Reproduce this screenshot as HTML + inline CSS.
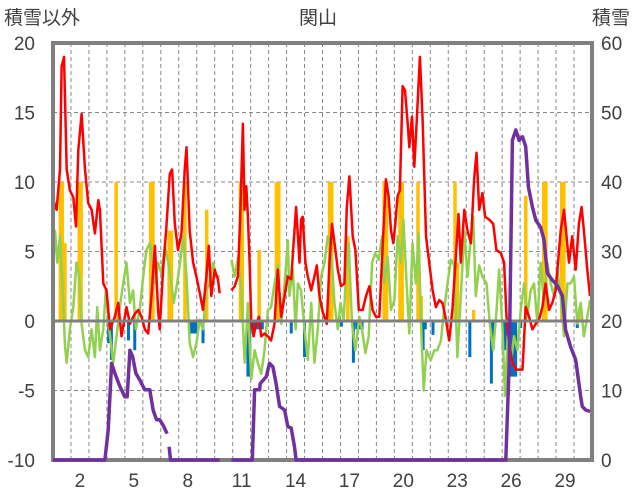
<!DOCTYPE html>
<html><head><meta charset="utf-8"><style>
html,body{margin:0;padding:0;background:#fff;}
svg{display:block;font-family:"Liberation Sans","Noto Sans CJK JP",sans-serif;}
</style></head><body>
<svg id="chart" width="636" height="501" viewBox="0 0 636 501"></svg>
<script>
// ---- data ----
const dayTicks=[2,5,8,11,14,17,20,23,26,29];
const leftTicks=[20,15,10,5,0,-5,-10];
const rightTicks=[60,50,40,30,20,10,0];
const redDays=[0.02,0.2,0.39,0.48,0.61,0.76,0.94,1.13,1.28,1.41,1.59,1.78,1.96,2.15,2.33,2.52,2.61,2.8,2.98,3.17,3.44,3.63,3.81,4.09,4.28,4.55,4.74,4.93,5.11,5.3,5.48,5.67,5.85,5.94,6.13,6.31,6.5,6.63,6.78,6.96,7.15,7.33,7.43,7.61,7.8,7.98,8.17,8.35,8.54,8.67,8.81,9.0,9.18,9.28,9.6,9.93,10.11,10.29,10.42,10.57,10.66,10.76,10.85,10.94,11.03,11.16,11.31,11.46,11.59,11.77,11.96,12.14,12.33,12.51,12.7,12.89,13.07,13.26,13.39,13.53,13.72,13.81,13.9,14.05,14.18,14.37,14.55,14.68,14.83,15.02,15.24,15.39,15.53,15.72,15.85,16.03,16.22,16.35,16.5,16.68,16.83,17.02,17.24,17.42,17.61,17.79,17.98,18.16,18.35,18.53,18.68,18.81,18.94,19.05,19.18,19.31,19.46,19.59,19.74,19.83,19.98,20.11,20.24,20.42,20.57,20.76,20.94,21.13,21.31,21.5,21.68,21.87,22.05,22.24,22.42,22.57,22.7,22.89,23.07,23.26,23.44,23.57,23.72,23.9,24.05,24.27,24.5,24.68,24.92,25.11,25.24,25.39,25.57,25.76,25.94,26.13,26.31,26.5,26.68,26.87,27.05,27.24,27.42,27.61,27.79,27.98,28.26,28.44,28.53,28.72,28.9,29.09,29.27,29.42,29.55,29.74,29.89];
const redVals=[8.7,8.0,10.9,18.3,19.0,10.9,9.4,8.9,6.8,12.3,14.9,10.9,8.5,8.0,6.3,8.7,8.0,2.7,2.2,-0.6,0.3,1.3,-1.1,1.0,-0.2,0.5,0.8,0.3,-0.6,-0.9,1.8,5.4,0.8,-0.6,3.7,6.8,10.6,10.9,7.0,5.1,6.3,10.9,12.5,6.5,4.2,3.2,2.0,0.8,3.2,5.4,1.8,3.7,3.0,2.0,null,2.2,2.5,3.2,7.5,14.2,8.0,9.7,7.5,4.2,0.1,-1.1,-0.2,0.3,-1.1,-0.9,-1.1,-1.4,-0.2,3.7,0.3,1.8,3.2,3.0,5.6,8.2,4.2,7.3,7.5,4.2,3.2,2.2,3.2,4.0,1.8,0.6,-0.2,4.2,7.0,5.1,3.7,2.5,2.7,8.2,10.4,6.1,5.1,0.8,0.8,1.8,2.5,0.8,0.3,0.3,5.4,10.2,9.0,6.5,5.6,7.0,9.0,9.4,16.9,16.6,14.2,12.5,14.7,11.1,14.2,19.0,14.5,6.1,4.2,2.2,1.0,1.5,1.3,0.1,-1.4,1.0,4.6,7.7,4.2,8.0,6.5,5.6,10.2,12.1,8.0,9.2,7.5,7.3,7.0,5.1,4.9,4.2,0.3,-1.6,-3.0,-3.5,-3.5,-3.5,1.0,0.3,-0.6,-0.2,0.1,1.0,2.7,0.8,1.3,2.2,6.5,8.0,6.8,4.2,6.1,3.7,7.0,8.2,6.5,3.7,1.8];
const greenDays=[0.02,0.11,0.24,0.39,0.54,0.67,0.76,0.94,1.13,1.31,1.46,1.59,1.78,1.96,2.15,2.33,2.46,2.61,2.8,2.94,3.13,3.35,3.54,3.72,3.91,4.09,4.28,4.46,4.61,4.83,5.02,5.2,5.39,5.54,5.67,5.85,6.04,6.22,6.41,6.59,6.72,6.91,7.09,7.24,7.43,7.61,7.8,7.98,8.17,8.35,8.54,8.72,8.91,9.09,9.28,9.6,9.93,10.11,10.3,10.48,10.67,10.85,11.03,11.22,11.4,11.59,11.77,11.96,12.14,12.33,12.51,12.7,12.89,13.07,13.16,13.35,13.5,13.63,13.81,14.0,14.18,14.37,14.55,14.74,14.92,15.11,15.29,15.48,15.66,15.85,16.0,16.18,16.31,16.46,16.64,16.83,17.05,17.2,17.39,17.57,17.76,17.94,18.13,18.31,18.44,18.63,18.81,19.0,19.18,19.37,19.5,19.68,19.83,20.01,20.2,20.35,20.48,20.63,20.79,20.94,21.03,21.22,21.4,21.59,21.77,21.96,22.14,22.33,22.51,22.7,22.89,23.07,23.26,23.39,23.53,23.72,23.9,24.13,24.31,24.5,24.68,24.83,25.02,25.16,25.31,25.48,25.66,25.85,26.03,26.22,26.4,26.59,26.77,26.96,27.14,27.33,27.51,27.7,27.89,28.07,28.26,28.44,28.63,28.81,29.0,29.18,29.37,29.55,29.74,29.89];
const greenVals=[4.6,6.5,4.2,6.1,2.2,-1.8,-3.0,-0.6,1.0,4.2,3.2,-0.2,-2.1,-2.6,-0.6,-2.6,1.0,-2.1,-0.6,2.2,-0.6,-3.0,-1.1,1.0,2.7,4.2,1.3,2.2,-0.6,0.8,3.2,5.1,5.6,4.4,2.7,4.2,3.4,5.4,4.2,2.7,1.3,2.7,4.4,6.1,3.2,-1.6,-2.6,-1.6,0.1,-0.6,2.2,2.7,4.2,3.2,3.2,null,4.4,3.2,4.6,2.2,-3.0,1.3,-4.2,-2.1,-3.0,-3.8,-2.1,0.8,1.0,2.7,4.0,-0.2,2.7,5.8,1.8,3.7,-0.6,2.7,2.2,-0.6,-2.8,1.3,-3.0,-0.6,3.2,4.2,6.1,5.4,1.3,-0.6,1.3,0.1,3.4,5.6,-0.2,-2.1,0.3,-0.6,-2.3,-1.1,4.2,4.9,4.4,6.1,2.7,4.6,0.8,1.5,6.1,4.2,7.3,2.7,-0.9,5.6,2.7,6.3,-0.2,-5.0,-2.1,-2.6,-2.8,-2.1,-2.1,-1.4,0.8,2.7,4.4,4.0,-2.6,1.8,6.5,3.2,6.1,7.5,1.8,4.0,3.2,2.7,-0.2,-2.1,0.6,3.7,-0.6,-5.4,-1.1,-3.0,-1.1,-2.1,0.8,2.7,0.3,2.2,2.7,-0.2,4.2,1.3,4.2,2.7,1.8,3.7,1.8,-1.1,2.7,2.7,3.2,-0.2,1.3,-1.1,0.3,1.5];
const snowDays=[0,2.89,3.07,3.26,3.44,3.72,4.0,4.13,4.28,4.43,4.61,4.83,5.11,5.39,5.57,5.76,5.94,6.13,6.35,6.4,6.46,6.54,9.28,9.6,9.93,11.09,11.22,11.5,11.53,11.87,12.05,12.24,12.42,12.61,12.89,13.07,13.26,13.44,13.53,25.2,25.39,25.57,25.76,25.94,26.13,26.31,26.46,26.68,26.87,27.14,27.33,27.51,27.79,28.07,28.35,28.53,28.81,29.09,29.37,29.46,29.65,29.89];
const snowVals=[0,0,4.3,13.9,12.5,10.6,9.1,9.1,15.8,14.9,12.5,11.5,10.1,10.1,7.2,5.8,5.8,5.0,3.8,null,1.9,0,0,null,0,0,10.1,10.1,11.0,12.0,13.9,13.4,11.0,7.7,7.2,4.8,4.6,1.9,0,0,13.9,46.0,47.5,46.0,46.5,45.1,39.3,36.4,34.5,33.5,31.7,26.9,25.9,25.1,23.6,18.7,16.3,14.4,9.1,7.7,7.2,7.0];
const precipDays=[0.4,0.5,0.65,1.45,1.55,3.5,5.42,5.55,6.45,6.58,7.33,8.54,10.42,10.52,11.46,12.42,12.55,15.38,15.5,16.4,18.42,18.55,19.3,19.42,20.3,20.39,20.48,22.36,22.5,23.4,26.3,27.3,27.42,28.3,28.42,29.3];
const precipVals=[10,10,5.6,10,10,10,10,10,6.5,6.5,10,8.0,10,10,5.1,10,10,10,10,6.1,10,10,10,10,10,2.0,1.8,10,4.2,0.8,9.0,10,10,10,10,1.0];
const meltDays=[3.1,3.25,4.2,4.55,7.65,7.8,7.95,8.35,10.85,10.95,11.05,11.2,11.35,11.5,11.65,13.26,14.0,16.05,16.72,16.9,17.05,17.2,20.6,20.72,21.15,23.2,24.4,24.5,25.05,25.2,25.35,25.45,25.6,25.75,26.03,29.18];
const meltVals=[-1.6,-2.8,-1.4,-2.1,-0.9,-0.9,-0.9,-1.6,-4.0,-4.0,-0.6,-0.6,-0.6,-0.6,-0.6,-0.9,-2.6,-0.4,-3.0,-0.6,-0.6,-0.6,-2.1,-0.6,-1.0,-2.6,-4.5,-2.0,-2.1,-2.1,-2.1,-4.0,-4.0,-4.0,-0.5,-0.5];

// ---- scales ----
const X0=53,X1=592,Y0=43,Y1=460;
const xS=d=>X0+d*(X1-X0)/30;
const yL=v=>Y1-(v+10)*(Y1-Y0)/30;
const yR=v=>Y1-v*(Y1-Y0)/60;
const NS='http://www.w3.org/2000/svg';
const svg=document.getElementById('chart');
function mk(tag,attrs,parent){const e=document.createElementNS(NS,tag);for(const k in attrs)e.setAttribute(k,attrs[k]);(parent||svg).appendChild(e);return e;}

// grid
const grid=mk('g',{});


for(let d=1;d<30;d++){mk('line',{x1:xS(d),x2:xS(d),y1:Y0,y2:Y1,stroke:'#888','stroke-width':1,'stroke-dasharray':'4,3'},grid);}
leftTicks.forEach(v=>{if(v!==0&&v!==20&&v!==-10)mk('line',{x1:X0,x2:X1,y1:yL(v),y2:yL(v),stroke:'#888','stroke-width':1,'stroke-dasharray':'4,3'},grid);});

// bars
const pg=mk('g',{});


precipDays.forEach((d,i)=>{const y=yL(precipVals[i]);const r=mk('rect',{x:xS(d)-1.5,y:y,width:3.5,height:yL(0)-y,fill:'#FFC000'},pg);

});
const bg=mk('g',{});


meltDays.forEach((d,i)=>{const y=yL(meltVals[i]);const r=mk('rect',{x:xS(d)-1.5,y:yL(0),width:3,height:y-yL(0),fill:'#0070C0'},bg);

});

function line(days,vals,ys,color,w,name){
  let dstr='',pen=false;
  days.forEach((d,i)=>{const v=vals[i];if(v===null){pen=false;return;}dstr+=(pen?'L':'M')+xS(d).toFixed(1)+','+ys(v).toFixed(1);pen=true;});
  const p=mk('path',{d:dstr,fill:'none',stroke:color,'stroke-width':w,'stroke-linejoin':'round'});
  
  
}
line(greenDays,greenVals,yL,'#92D050',2.5,'wind-line');
line(redDays,redVals,yL,'#FF0000',2.5,'temperature-line');

// zero line
const z=mk('line',{x1:X0,x2:X1,y1:yL(0),y2:yL(0),stroke:'#808080','stroke-width':3});



// frame
const f=mk('rect',{x:X0,y:Y0,width:X1-X0,height:Y1-Y0,fill:'none',stroke:'#808080','stroke-width':4});



line(snowDays,snowVals,yR,'#7030A0',3.5,'snow-depth-line');

// tick labels
leftTicks.forEach(v=>{const t=mk('text',{x:35,y:yL(v)+7,'text-anchor':'end','font-size':19,fill:'#404040'});t.textContent=v;

});
rightTicks.forEach(v=>{const t=mk('text',{x:601,y:yR(v)+7,'font-size':19,fill:'#404040'});t.textContent=v;

});
dayTicks.forEach(d=>{const t=mk('text',{x:xS(d-0.5),y:487,'text-anchor':'middle','font-size':19,fill:'#404040'});t.textContent=d;

});

const titles=[['積雪以外',4,24,'start','left-axis-title'],['関山',318,24,'middle','chart-title'],['積雪',630,24,'end','right-axis-title']];
titles.forEach(a=>{const t=mk('text',{x:a[1],y:a[2],'text-anchor':a[3],'font-size':19,fill:'#404040'});t.textContent=a[0];

});
</script>
</body></html>
